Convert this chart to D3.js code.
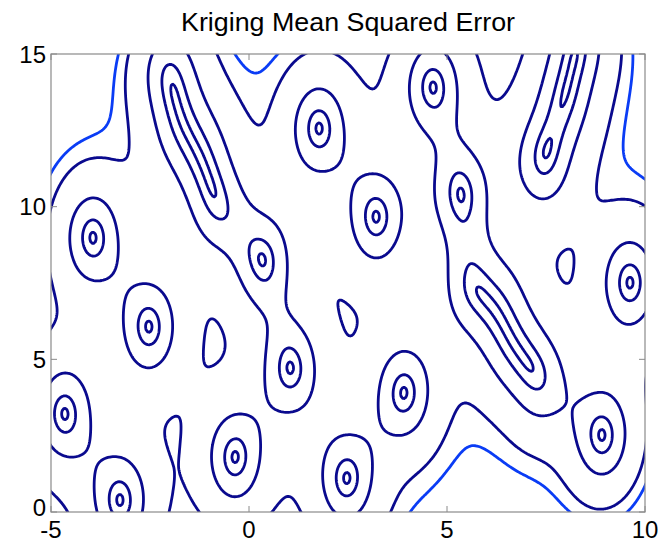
<!DOCTYPE html>
<html><head><meta charset="utf-8">
<script src="https://cdn.jsdelivr.net/npm/d3@7"></script>
<style>
body { margin: 0; background: #fff; }
text { font-family: "Liberation Sans", Arial, Helvetica, sans-serif; fill: #000; }
</style>
</head><body><div id="chart"></div>
<script>
// sample sites
var sampleX = [-4.65, -3.26, -3.94, -2.53, -0.35, -1.82, -1.69, -1.19, -1.04, 0.33, 1.04, 1.77, 3.21,
               2.47, 3.91, 4.65, 5.35, 6.04, 6.26, 6.64, 6.92, 7.53, 8.03, 8.18, 8.91, 9.62];
var sampleY = [3.21, 0.39, 8.98, 6.07, 1.80, 13.38, 12.85, 11.48, 10.98, 8.26, 4.72, 12.56, 9.67,
               1.11, 3.90, 13.90, 10.39, 6.89, 6.52, 5.64, 5.08, 11.87, 13.93, 14.72, 2.52, 7.51];
var theta = [0.6, 0.12];                        // gaussian correlation, x and y
var contourLevels = [0.008, 0.08, 0.35, 0.9, 1.09];
var levelColors = ["#0a0a8e", "#0a0a8e", "#0a0a8e", "#0a0a8e", "#0a3cf5"];
var xTicks = [-5, 0, 5, 10];
var yTicks = [0, 5, 10, 15];

var pts = sampleX.map(function(x, i) { return [x, sampleY[i]]; });

function invert(M) {
    var n = M.length, A = M.map(function(r, i) {
        var e = new Array(n).fill(0); e[i] = 1; return r.slice().concat(e);
    });
    for (var c = 0; c < n; c++) {
        var p = c;
        for (var r = c + 1; r < n; r++) if (Math.abs(A[r][c]) > Math.abs(A[p][c])) p = r;
        var t = A[c]; A[c] = A[p]; A[p] = t;
        var d = A[c][c];
        for (var k = 0; k < 2 * n; k++) A[c][k] /= d;
        for (r = 0; r < n; r++) if (r !== c) {
            var f = A[r][c];
            if (f) for (k = 0; k < 2 * n; k++) A[r][k] -= f * A[c][k];
        }
    }
    return A.map(function(r) { return r.slice(n); });
}

// linear regression basis
function basis(x, y) { return [1, x / 5, y / 5]; }

// kriging mean squared error (sigma^2 = 1)
function krigingMSE(thx, thy) {
    var n = pts.length;
    var R = pts.map(function(a, i) {
        return pts.map(function(b, j) {
            var dx = a[0] - b[0], dy = a[1] - b[1];
            return Math.exp(-thx * dx * dx - thy * dy * dy) + (i === j ? 1e-9 : 0);
        });
    });
    var Ri = invert(R);
    var F = pts.map(function(a) { return basis(a[0], a[1]); });
    var p = F[0].length;
    var RiF = Ri.map(function(row) {
        var out = new Array(p).fill(0);
        row.forEach(function(v, j) { for (var k = 0; k < p; k++) out[k] += v * F[j][k]; });
        return out;
    });
    var FtRiF = [];
    for (var a = 0; a < p; a++) {
        FtRiF.push([]);
        for (var b = 0; b < p; b++) {
            var s = 0;
            for (var i = 0; i < n; i++) s += F[i][a] * RiF[i][b];
            FtRiF[a].push(s);
        }
    }
    var G = invert(FtRiF);
    var r = new Float64Array(n);
    return function(x, y) {
        var i, j, k;
        for (i = 0; i < n; i++) {
            var dx = x - pts[i][0], dy = y - pts[i][1];
            r[i] = Math.exp(-thx * dx * dx - thy * dy * dy);
        }
        var q = 0;
        for (i = 0; i < n; i++) {
            var s = 0, row = Ri[i];
            for (j = 0; j < n; j++) s += row[j] * r[j];
            q += r[i] * s;
        }
        var f = basis(x, y), u = [];
        for (k = 0; k < p; k++) {
            var t = 0;
            for (i = 0; i < n; i++) t += RiF[i][k] * r[i];
            u.push(t - f[k]);
        }
        var b = 0;
        for (k = 0; k < p; k++) for (j = 0; j < p; j++) b += u[k] * G[k][j] * u[j];
        return 1 - q + b;
    };
}

var margin = { top: 54, right: 23, bottom: 37, left: 51 };
var width = 668 - margin.left - margin.right,
    height = 549 - margin.top - margin.bottom;

var svg = d3.select("#chart").append("svg")
    .attr("width", 668).attr("height", 549);

svg.append("text")
    .attr("x", margin.left + width / 2).attr("y", 31)
    .attr("text-anchor", "middle")
    .attr("font-size", 25)
    .attr("textLength", 334).attr("lengthAdjust", "spacingAndGlyphs")
    .text("Kriging Mean Squared Error");

var g = svg.append("g").attr("transform", "translate(" + margin.left + "," + margin.top + ")");

var xScale = d3.scaleLinear().domain([-5, 10]).range([0, width]);
var yScale = d3.scaleLinear().domain([0, 15]).range([height, 0]);

// grid a bit larger than the axes so open curves run past the clip
var step = 0.04, x0 = -5.4, y0 = -0.4, nx = 396, ny = 396;
var mse = krigingMSE(theta[0], theta[1]);
var values = new Float64Array(nx * ny);
for (var j = 0; j < ny; j++)
    for (var i = 0; i < nx; i++) values[j * nx + i] = mse(x0 + i * step, y0 + j * step);

var contours = d3.contours().size([nx, ny]).thresholds(contourLevels)(values);
var path = d3.geoPath(d3.geoTransform({
    point: function(x, y) {
        this.stream.point(xScale(x0 + (x - 0.5) * step), yScale(y0 + (y - 0.5) * step));
    }
}));

g.append("clipPath").attr("id", "plot-clip")
    .append("rect").attr("width", width).attr("height", height);

g.append("g").attr("clip-path", "url(#plot-clip)")
    .selectAll("path").data(contours).join("path")
    .attr("d", path)
    .attr("fill", "none")
    .attr("stroke", function(d, k) { return levelColors[k]; })
    .attr("stroke-width", 2.8)
    .attr("stroke-linejoin", "round");

// matlab-style box with inward ticks
g.append("rect").attr("width", width).attr("height", height)
    .attr("fill", "none").attr("stroke", "#8a8a8a").attr("stroke-width", 1.2);

var tickLen = 6;
xTicks.forEach(function(t) {
    var x = xScale(t);
    g.append("line").attr("x1", x).attr("x2", x).attr("y1", height).attr("y2", height - tickLen)
        .attr("stroke", "#8a8a8a");
    g.append("line").attr("x1", x).attr("x2", x).attr("y1", 0).attr("y2", tickLen)
        .attr("stroke", "#8a8a8a");
    g.append("text").attr("x", x).attr("y", height + 26)
        .attr("text-anchor", "middle").attr("font-size", 24).text(t);
});
yTicks.forEach(function(t) {
    var y = yScale(t);
    g.append("line").attr("x1", 0).attr("x2", tickLen).attr("y1", y).attr("y2", y)
        .attr("stroke", "#8a8a8a");
    g.append("line").attr("x1", width).attr("x2", width - tickLen).attr("y1", y).attr("y2", y)
        .attr("stroke", "#8a8a8a");
    g.append("text").attr("x", -5).attr("y", t === 0 ? y + 4 : y + 8.5)
        .attr("text-anchor", "end").attr("font-size", 24).text(t);
});
</script>
</body></html>
